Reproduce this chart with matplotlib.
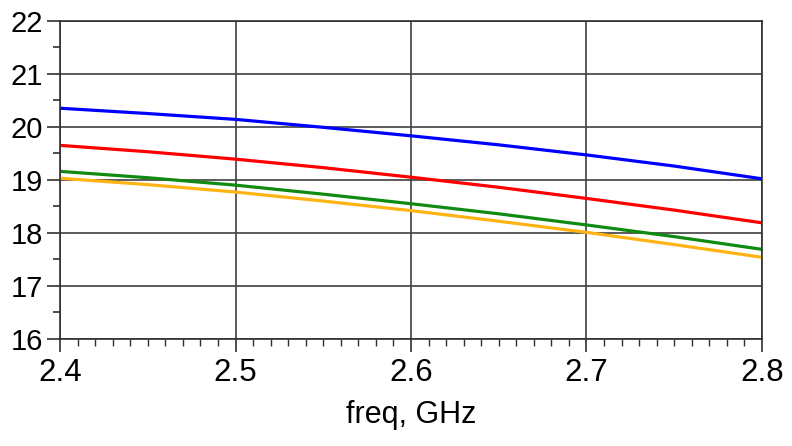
import numpy as np
import matplotlib
matplotlib.use("Agg")
import matplotlib.pyplot as plt
from matplotlib.ticker import MultipleLocator

# frequency points (GHz) and gain traces
freq = [2.40, 2.45, 2.50, 2.55, 2.60, 2.65, 2.70, 2.75, 2.80]
blue = [20.35, 20.25, 20.14, 19.99, 19.83, 19.66, 19.47, 19.26, 19.02]
red = [19.65, 19.53, 19.39, 19.23, 19.05, 18.86, 18.65, 18.43, 18.19]
green = [19.16, 19.04, 18.90, 18.73, 18.55, 18.36, 18.15, 17.93, 17.69]
orange = [19.03, 18.91, 18.77, 18.60, 18.42, 18.22, 18.01, 17.78, 17.54]

plt.rcParams['font.family'] = ['Liberation Sans', 'DejaVu Sans']

fig = plt.figure(figsize=(7.92, 4.46), dpi=100)
ax = fig.add_axes([0.0758, 0.2399, 0.962 - 0.0758, 0.9536 - 0.2399])

for vals, col in [(blue, '#0000ff'), (red, '#ff0000'),
                  (green, '#108a10'), (orange, '#ffb414')]:
    ax.plot(freq, vals, color=col, linewidth=2.3, solid_capstyle='butt')

ax.set_xlim(2.4, 2.8)
ax.set_ylim(16, 22)
ax.xaxis.set_major_locator(MultipleLocator(0.1))
ax.xaxis.set_minor_locator(MultipleLocator(0.01))
ax.yaxis.set_major_locator(MultipleLocator(1))
ax.yaxis.set_minor_locator(MultipleLocator(0.5))
ax.set_xticks(np.arange(2.4, 2.81, 0.1))
ax.set_xticklabels(['2.4', '2.5', '2.6', '2.7', '2.8'])

ax.grid(True, which='major', color='#404040', linewidth=1.2)
for s in ax.spines.values():
    s.set_color('#303030')
    s.set_linewidth(1.2)

ax.tick_params(axis='y', which='major', direction='out', length=9.5, width=1.2,
               labelsize=21, pad=3, color='#303030')
ax.tick_params(axis='y', which='minor', direction='out', length=5, width=1.2,
               color='#303030')
ax.tick_params(axis='x', which='major', direction='out', length=9, width=1.2,
               labelsize=22.5, pad=5, color='#303030')
ax.tick_params(axis='x', which='minor', direction='out', length=5, width=1,
               color='#303030')

ax.set_xlabel('freq, GHz', fontsize=22, labelpad=8)

fig.savefig('out.png', dpi=100)
